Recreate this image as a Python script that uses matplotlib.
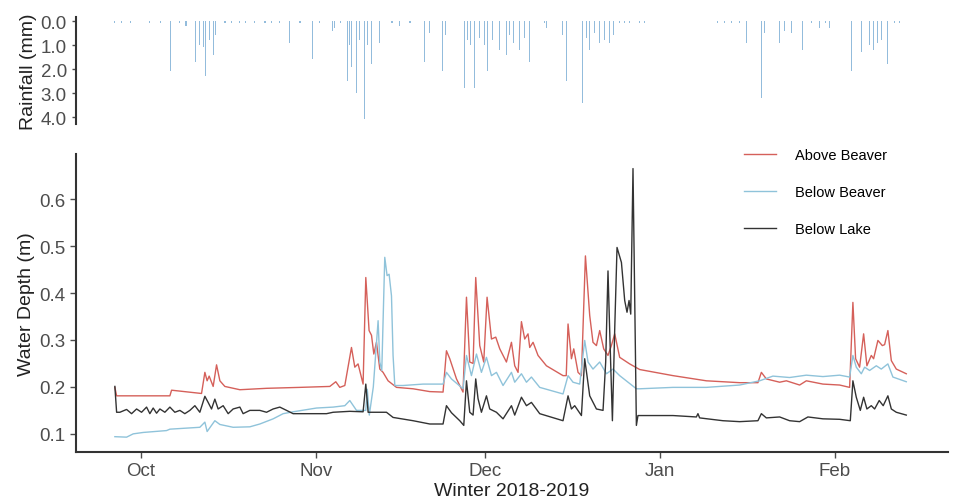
import pandas as pd
import matplotlib
matplotlib.use("Agg")
import matplotlib.pyplot as plt
import matplotlib.dates as mdates

plt.rcParams['font.family'] = ['Liberation Sans', 'DejaVu Sans']

# days are counted from 1 Oct 2018
base = pd.Timestamp("2018-10-01")

# Above Beaver
above_days = [-4.61, -4.30, 5.14, 5.44, 10.75, 11.34, 11.74, 12.10, 12.81, 13.41, 14.0, 14.88,
              17.54, 22.27, 28.17, 33.48, 34.54, 35.25, 36.14, 37.32, 37.91, 38.49, 39.38,
              39.86, 40.44, 40.87, 41.28, 41.75, 42.34, 42.92, 43.81, 45.30, 48.24, 51.20,
              53.55, 54.15, 54.74, 55.93, 57.09, 57.70, 58.28, 58.87, 59.34, 60.05, 60.76,
              61.35, 62.13, 62.89, 63.60, 64.78, 65.67, 66.25, 66.84, 67.44, 68.02, 68.61,
              68.91, 69.50, 70.38, 71.87, 74.81, 75.38, 75.70, 76.30, 76.71, 77.47, 78.07,
              78.78, 79.54, 80.12, 80.73, 81.31, 82.02, 82.78, 83.38, 83.97, 84.85, 86.62,
              88.40, 94.30, 100.21, 106.11, 109.35, 109.96, 110.84, 113.20, 114.39, 116.74,
              117.93, 120.87, 123.83, 125.60, 126.18, 126.66, 127.37, 128.08, 128.66, 129.44,
              129.85, 130.61, 131.39, 131.80, 132.38, 132.99, 133.87, 135.64]
above_depth = [0.199, 0.181, 0.181, 0.193, 0.186, 0.231, 0.213, 0.223, 0.201, 0.247, 0.213, 0.201,
               0.194, 0.197, 0.199, 0.201, 0.211, 0.199, 0.203, 0.284, 0.242, 0.249, 0.206,
               0.433, 0.320, 0.310, 0.270, 0.295, 0.238, 0.231, 0.213, 0.199, 0.196, 0.190,
               0.189, 0.277, 0.260, 0.217, 0.189, 0.391, 0.253, 0.250, 0.433, 0.288, 0.253,
               0.391, 0.302, 0.306, 0.281, 0.253, 0.295, 0.245, 0.231, 0.339, 0.302, 0.313,
               0.284, 0.295, 0.267, 0.245, 0.224, 0.224, 0.334, 0.260, 0.281, 0.231, 0.224,
               0.479, 0.352, 0.295, 0.288, 0.320, 0.281, 0.267, 0.288, 0.313, 0.263, 0.249,
               0.237, 0.224, 0.213, 0.209, 0.209, 0.231, 0.217, 0.210, 0.213, 0.204,
               0.213, 0.206, 0.204, 0.199, 0.380, 0.260, 0.242, 0.313, 0.245, 0.267,
               0.260, 0.299, 0.288, 0.290, 0.320, 0.256, 0.238, 0.228]

# Below Beaver
below_days = [-4.61, -2.53, -1.36, 0.41, 4.55, 5.14, 10.45, 11.34, 11.74, 13.11, 14.0, 16.35,
              19.31, 21.08, 23.44, 25.21, 26.98, 31.12, 34.07, 36.14, 37.02, 38.21, 39.38,
              39.86, 40.12, 40.48, 41.19, 42.04, 42.34, 42.69, 43.22, 43.63, 43.99, 44.41,
              44.69, 45.0, 46.47, 50.01, 53.55, 54.15, 55.04, 57.09, 57.70, 58.58, 59.47,
              60.35, 61.24, 62.13, 63.01, 64.18, 65.67, 66.25, 67.44, 68.33, 69.21, 70.68,
              74.81, 75.70, 76.58, 77.77, 78.65, 79.24, 80.12, 81.31, 82.50, 83.67, 84.85,
              87.81, 88.40, 94.30, 100.21, 106.11, 109.65, 112.0, 114.96, 117.93, 120.87,
              123.83, 125.60, 126.18, 126.78, 127.67, 128.26, 129.14, 130.33, 131.21, 132.38,
              133.27, 135.64]
below_depth = [0.094, 0.093, 0.100, 0.103, 0.107, 0.110, 0.114, 0.125, 0.105, 0.128, 0.120, 0.114,
               0.115, 0.121, 0.132, 0.143, 0.147, 0.155, 0.157, 0.160, 0.171, 0.150, 0.150,
               0.150, 0.195, 0.140, 0.200, 0.341, 0.253, 0.235, 0.476, 0.437, 0.440, 0.394,
               0.267, 0.203, 0.203, 0.206, 0.206, 0.231, 0.217, 0.196, 0.267, 0.224, 0.270,
               0.231, 0.263, 0.224, 0.231, 0.203, 0.231, 0.210, 0.228, 0.210, 0.221, 0.199,
               0.185, 0.224, 0.210, 0.206, 0.299, 0.253, 0.238, 0.253, 0.228, 0.238, 0.224,
               0.196, 0.196, 0.199, 0.199, 0.204, 0.213, 0.223, 0.220, 0.225, 0.222,
               0.225, 0.221, 0.267, 0.242, 0.228, 0.242, 0.235, 0.245, 0.238, 0.249,
               0.221, 0.211]

# Below Lake
lake_days = [-4.61, -4.30, -3.72, -2.53, -1.65, -0.76, 0.12, 1.01, 1.59, 2.18, 2.78, 3.37, 4.25,
             5.14, 6.02, 6.91, 7.79, 8.68, 9.57, 10.45, 11.34, 11.92, 12.52, 13.11, 13.69,
             14.58, 15.47, 16.35, 17.54, 18.12, 19.31, 21.08, 22.27, 23.44, 24.62, 25.81,
             26.98, 29.35, 32.90, 34.07, 37.02, 39.38, 39.86, 40.27, 43.52, 44.69, 48.24,
             51.20, 53.55, 54.15, 55.04, 56.51, 57.22, 57.70, 58.28, 58.87, 59.34, 59.75,
             60.35, 61.24, 61.82, 63.01, 64.18, 65.67, 66.25, 67.44, 68.33, 69.21, 70.68,
             74.81, 75.70, 76.30, 76.88, 78.07, 78.65, 79.54, 80.73, 81.90, 82.37, 82.78,
             83.08, 83.56, 83.97, 84.38, 85.16, 85.74, 86.15, 86.51, 86.81, 87.21, 87.81,
             88.09, 90.17, 94.30, 98.44, 98.72, 99.02, 103.15, 106.11, 109.35, 109.96,
             110.84, 113.20, 114.96, 116.74, 118.21, 120.87, 123.83, 125.72, 126.18, 126.78,
             127.49, 128.08, 128.66, 129.44, 130.03, 130.84, 131.55, 132.38, 132.99, 133.87,
             135.64]
lake_depth = [0.201, 0.146, 0.146, 0.152, 0.143, 0.153, 0.146, 0.157, 0.143, 0.155, 0.144, 0.153, 0.146,
              0.157, 0.146, 0.150, 0.143, 0.150, 0.160, 0.146, 0.180, 0.167, 0.153, 0.174, 0.153,
              0.160, 0.143, 0.153, 0.157, 0.143, 0.150, 0.150, 0.146, 0.153, 0.157, 0.150,
              0.143, 0.143, 0.143, 0.146, 0.148, 0.147, 0.206, 0.146, 0.146, 0.135, 0.128,
              0.121, 0.121, 0.160, 0.145, 0.128, 0.118, 0.213, 0.146, 0.140, 0.217, 0.175,
              0.146, 0.181, 0.153, 0.146, 0.132, 0.160, 0.140, 0.178, 0.160, 0.167, 0.143,
              0.128, 0.181, 0.153, 0.160, 0.139, 0.260, 0.181, 0.153, 0.150, 0.253, 0.447,
              0.320, 0.128, 0.323, 0.497, 0.465, 0.384, 0.359, 0.384, 0.355, 0.665, 0.118,
              0.139, 0.139, 0.139, 0.136, 0.143, 0.134, 0.128, 0.126, 0.128, 0.143,
              0.134, 0.136, 0.128, 0.126, 0.136, 0.132, 0.131, 0.128, 0.213, 0.178,
              0.150, 0.178, 0.153, 0.160, 0.153, 0.171, 0.160, 0.181, 0.153, 0.146,
              0.140]

# Rainfall
rain_days = [-4.6, -3.4, -1.9, 1.6, 3.4, 5.26, 6.9, 8.0, 9.74, 10.45, 11.16, 11.51, 12.22, 12.93,
             13.29, 14.9, 16.1, 17.5, 18.6, 20.2, 22.0, 23.2, 24.6, 26.39, 28.2, 30.47, 31.7,
             34.01, 34.37, 35.3, 36.67, 37.02, 37.38, 38.26, 38.80, 39.68, 40.21, 40.92, 42.34,
             44.5, 45.88, 47.7, 50.31, 51.20, 53.50, 54.03, 57.40, 57.93, 58.46, 59.17, 60.05,
             60.94, 61.47, 62.36, 63.60, 64.84, 65.37, 66.08, 67.14, 68.02, 68.91, 71.6, 71.92,
             74.76, 75.46, 78.30, 79.01, 79.54, 80.43, 81.31, 82.20, 83.08, 83.79, 84.85, 85.7,
             86.6, 88.4, 89.3, 102.2, 103.4, 104.7, 106.1, 107.35, 110.01, 110.54, 113.20,
             114.08, 115.32, 117.27, 118.9, 120.28, 121.4, 122.05, 125.95, 127.72, 129.14,
             129.85, 130.56, 131.26, 132.33, 133.6, 134.5]
rain_mm = [0.1, 0.1, 0.1, 0.1, 0.1, 2.1, 0.1, 0.2, 1.7, 1.0, 1.1, 2.3, 0.8, 1.4,
           0.6, 0.1, 0.1, 0.1, 0.1, 0.1, 0.1, 0.1, 0.1, 0.9, 0.1, 1.6, 0.1,
           0.4, 0.3, 0.1, 2.5, 1.0, 1.9, 3.0, 0.8, 4.1, 1.0, 1.8, 0.9,
           0.1, 0.2, 0.1, 1.7, 0.5, 2.1, 0.6, 2.8, 0.8, 1.0, 2.8, 0.7,
           1.0, 2.1, 0.8, 1.2, 1.4, 0.6, 0.9, 1.2, 0.7, 1.7, 0.1, 0.3,
           0.6, 2.5, 3.4, 0.7, 1.2, 0.5, 0.9, 0.8, 0.9, 0.6, 0.1, 0.1,
           0.1, 0.1, 0.1, 0.1, 0.1, 0.1, 0.1, 0.9, 3.2, 0.5, 0.9,
           0.4, 0.5, 1.2, 0.1, 0.3, 0.1, 0.3, 2.1, 1.3, 1.0,
           1.2, 0.9, 0.8, 1.8, 0.1, 0.1]


def to_dates(days):
    return base + pd.to_timedelta(days, unit="D")


fig = plt.figure(figsize=(9.57, 5.02), dpi=100)
ax_r = fig.add_axes([0.0794, 0.7506, 0.911, 0.2127])
ax = fig.add_axes([0.0794, 0.0982, 0.911, 0.593], sharex=ax_r)

tick_col = "#4d4d4d"
spine_col = "#333333"
fs_tick = 13.5
fs_title = 14

# rainfall panel
ax_r.bar(to_dates(rain_days), rain_mm, width=0.2, color="#3a86c0", alpha=0.55, linewidth=0)
ax_r.set_ylim(4.3, -0.15)
ax_r.set_yticks([0, 1, 2, 3, 4])
ax_r.set_yticklabels(["0.0", "1.0", "2.0", "3.0", "4.0"])
ax_r.set_ylabel("Rainfall (mm)", fontsize=fs_title, color="#222222", labelpad=3)
for s in ["top", "right", "bottom"]:
    ax_r.spines[s].set_visible(False)
ax_r.spines["left"].set_color(spine_col)
ax_r.spines["left"].set_linewidth(1.5)
ax_r.tick_params(axis="y", labelsize=fs_tick, colors=tick_col, length=3, width=1)
ax_r.tick_params(axis="x", bottom=False, labelbottom=False)

# water depth panel
ax.plot(to_dates(above_days), above_depth, color="#d5605a", lw=1.0, label="Above Beaver")
ax.plot(to_dates(below_days), below_depth, color="#8fc3da", lw=1.0, label="Below Beaver")
ax.plot(to_dates(lake_days), lake_depth, color="#333333", lw=1.0, label="Below Lake")

ax.set_ylim(0.062, 0.696)
ax.set_yticks([0.1, 0.2, 0.3, 0.4, 0.5, 0.6])
ax.set_xlim(base - pd.Timedelta(days=11.5), base + pd.Timedelta(days=143))
ax.xaxis.set_major_locator(mdates.MonthLocator())
ax.xaxis.set_major_formatter(mdates.DateFormatter("%b"))
ax.set_ylabel("Water Depth (m)", fontsize=fs_title, color="#222222", labelpad=3)
ax.set_xlabel("Winter 2018-2019", fontsize=fs_title, color="#222222", labelpad=2)
for s in ["top", "right"]:
    ax.spines[s].set_visible(False)
for s in ["left", "bottom"]:
    ax.spines[s].set_color(spine_col)
    ax.spines[s].set_linewidth(1.5)
ax.tick_params(labelsize=fs_tick, colors=tick_col, length=4, width=1)

leg = ax.legend(loc="upper right", bbox_to_anchor=(0.945, 1.065), frameon=False, fontsize=10.5,
                labelspacing=1.6, handlelength=2.2, handletextpad=1.3)

fig.savefig("out.png", dpi=100)
